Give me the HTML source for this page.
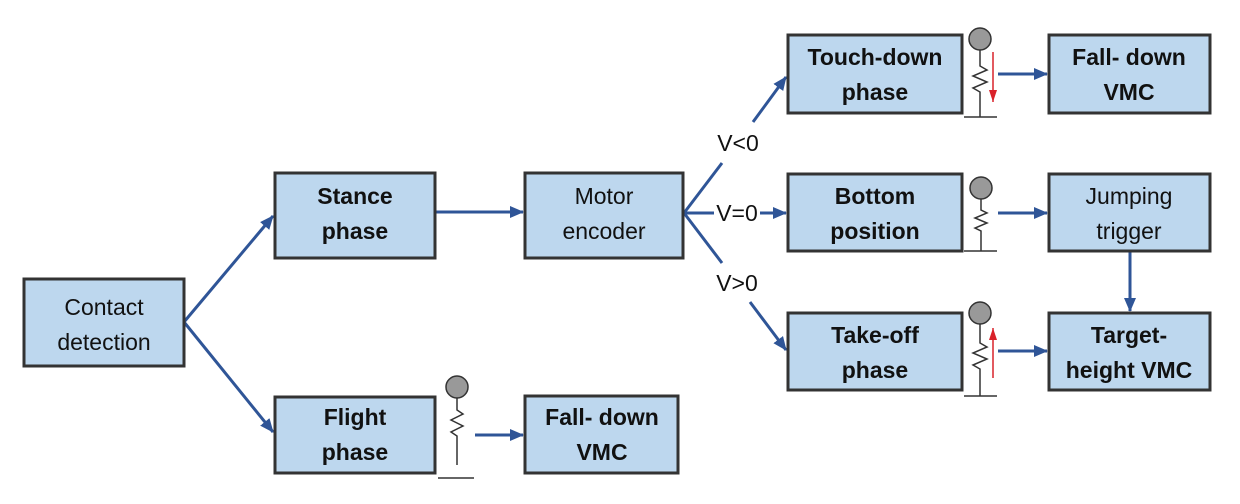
<!DOCTYPE html>
<html><head><meta charset="utf-8"><style>
html,body{margin:0;padding:0;background:#fff;}
svg{display:block;}
text{font-family:"Liberation Sans","DejaVu Sans",sans-serif;font-size:23px;fill:#111;text-anchor:middle;}
.b{font-weight:bold;}
.bx{fill:#bdd7ee;stroke:#333;stroke-width:3;}
.ln{stroke:#2f5597;stroke-width:3;fill:none;}
.sp{stroke:#333;stroke-width:1.5;fill:none;}
</style></head><body>
<svg width="1240" height="504" viewBox="0 0 1240 504">
<defs>
<marker id="a" markerWidth="14" markerHeight="12" refX="13" refY="6" orient="auto" markerUnits="userSpaceOnUse"><path d="M0,0 L14,6 L0,12 Z" fill="#2f5597"/></marker>
<marker id="r" markerWidth="12" markerHeight="8" refX="12" refY="4" orient="auto" markerUnits="userSpaceOnUse"><path d="M0,0 L12,4 L0,8 Z" fill="#d9222a"/></marker>
</defs>
<path class="ln" d="M184,322 L273,216" marker-end="url(#a)"/>
<path class="ln" d="M184,322 L273,432" marker-end="url(#a)"/>
<path class="ln" d="M435,212 L523,212" marker-end="url(#a)"/>
<path class="ln" d="M684,213 L722,163"/>
<path class="ln" d="M753,122 L786,77" marker-end="url(#a)"/>
<path class="ln" d="M684,213 L714,213"/>
<path class="ln" d="M760,213 L786,213" marker-end="url(#a)"/>
<path class="ln" d="M684,213 L722,263"/>
<path class="ln" d="M750,302 L786,350" marker-end="url(#a)"/>
<path class="ln" d="M998,74 L1047,74" marker-end="url(#a)"/>
<path class="ln" d="M998,213 L1047,213" marker-end="url(#a)"/>
<path class="ln" d="M998,351 L1047,351" marker-end="url(#a)"/>
<path class="ln" d="M1130,251 L1130,311" marker-end="url(#a)"/>
<path class="ln" d="M475,435 L523,435" marker-end="url(#a)"/>
<rect class="bx" x="24" y="279" width="160" height="87"/>
<rect class="bx" x="275" y="173" width="160" height="85"/>
<rect class="bx" x="275" y="397" width="160" height="76"/>
<rect class="bx" x="525" y="173" width="158" height="85"/>
<rect class="bx" x="525" y="396" width="153" height="77"/>
<rect class="bx" x="788" y="35" width="174" height="78"/>
<rect class="bx" x="1049" y="35" width="161" height="78"/>
<rect class="bx" x="788" y="174" width="174" height="77"/>
<rect class="bx" x="1049" y="174" width="161" height="77"/>
<rect class="bx" x="788" y="313" width="174" height="77"/>
<rect class="bx" x="1049" y="313" width="161" height="77"/>
<text x="104" y="315">Contact</text><text x="104" y="350">detection</text>
<text class="b" x="355" y="204">Stance</text><text class="b" x="355" y="239">phase</text>
<text class="b" x="355" y="425">Flight</text><text class="b" x="355" y="460">phase</text>
<text x="604" y="204">Motor</text><text x="604" y="239">encoder</text>
<text class="b" x="602" y="425">Fall- down</text><text class="b" x="602" y="460">VMC</text>
<text class="b" x="875" y="65">Touch-down</text><text class="b" x="875" y="100">phase</text>
<text class="b" x="1129" y="65">Fall- down</text><text class="b" x="1129" y="100">VMC</text>
<text class="b" x="875" y="204">Bottom</text><text class="b" x="875" y="239">position</text>
<text x="1129" y="204">Jumping</text><text x="1129" y="239">trigger</text>
<text class="b" x="875" y="343">Take-off</text><text class="b" x="875" y="378">phase</text>
<text class="b" x="1129" y="343">Target-</text><text class="b" x="1129" y="378">height VMC</text>
<text x="738" y="151">V&lt;0</text>
<text x="737" y="221">V=0</text>
<text x="737" y="291">V&gt;0</text>
<g>
<path class="sp" d="M980,50 L980,66 L987,70 L973,76 L987,82 L973,88 L980,92 L980,117"/>
<line x1="964" y1="117" x2="997" y2="117" stroke="#333" stroke-width="1.5"/>
<circle cx="980" cy="39" r="11" fill="#999" stroke="#333" stroke-width="1.5"/>
<path d="M993,52 L993,102" stroke="#d9222a" stroke-width="1.5" marker-end="url(#r)"/>
</g>
<g>
<path class="sp" d="M981,199 L981,210 L987,213 L975,218 L987,223 L975,228 L981,231 L981,251"/>
<line x1="964" y1="251" x2="997" y2="251" stroke="#333" stroke-width="1.5"/>
<circle cx="981" cy="188" r="11" fill="#999" stroke="#333" stroke-width="1.5"/>
</g>
<g>
<path class="sp" d="M980,324 L980,343 L987,347 L973,353 L987,359 L973,365 L980,369 L980,396"/>
<line x1="964" y1="396" x2="997" y2="396" stroke="#333" stroke-width="1.5"/>
<circle cx="980" cy="313" r="11" fill="#999" stroke="#333" stroke-width="1.5"/>
<path d="M993,378 L993,328" stroke="#d9222a" stroke-width="1.5" marker-end="url(#r)"/>
</g>
<g>
<path class="sp" d="M457,398 L457,410 L463,414 L451,420 L463,426 L451,432 L457,436 L457,465"/>
<line x1="438" y1="478" x2="474" y2="478" stroke="#333" stroke-width="1.5"/>
<circle cx="457" cy="387" r="11" fill="#999" stroke="#333" stroke-width="1.5"/>
</g>
</svg>
</body></html>
